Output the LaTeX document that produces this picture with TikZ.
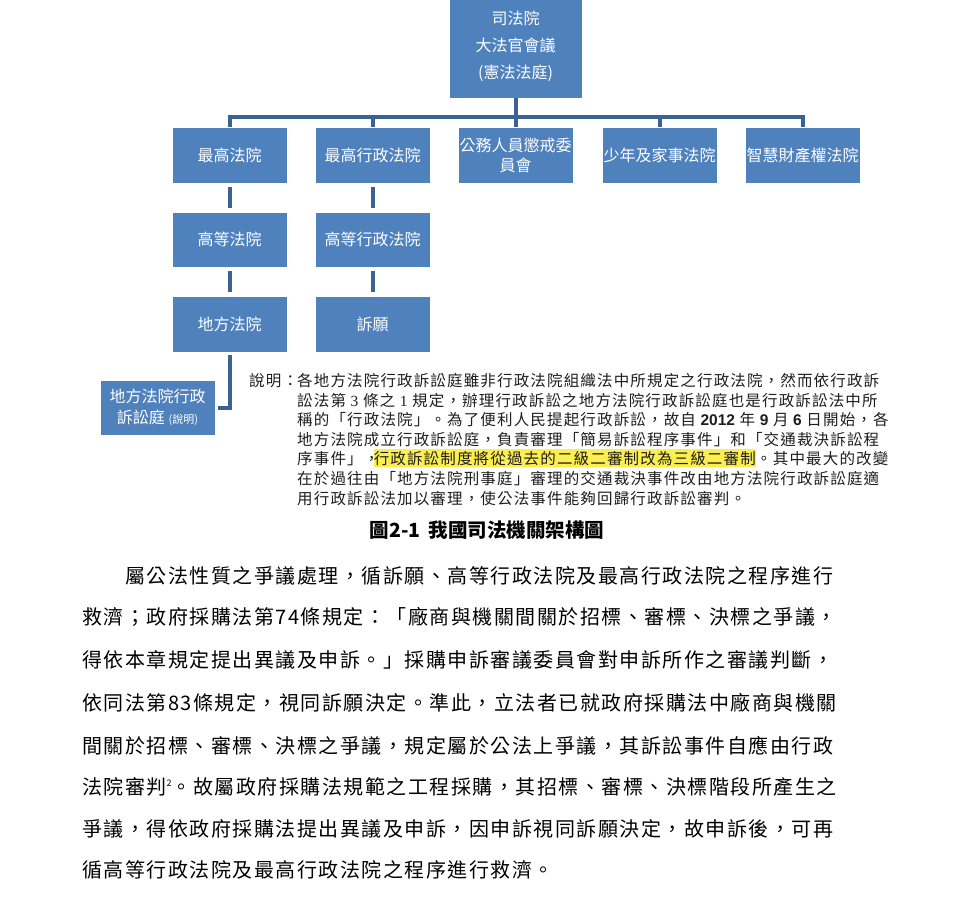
\documentclass[tikz,border=0pt]{standalone}
\usepackage{fontspec}
\setmainfont{Liberation Serif}
\newfontfamily\cjk{Noto Sans CJK TC}
\newfontfamily\notecjk{Noto Sans CJK TC}[LetterSpace=7.5]
\newfontfamily\bodycjk{Noto Sans CJK TC}[LetterSpace=7.5]
\newfontfamily\numsans{Liberation Sans}
\newfontfamily\numserif{Liberation Serif}
\definecolor{boxblue}{RGB}{79,129,189}
\definecolor{linkblue}{RGB}{58,98,148}
\definecolor{hlyellow}{RGB}{250,238,80}
\definecolor{txt}{RGB}{30,30,30}
\tikzset{
  box/.style={draw=white, line width=0.8pt, fill=boxblue, text=white,
    font=\cjk\fontsize{16}{20}\selectfont, align=center, inner sep=0pt,
    minimum width=115pt, minimum height=56pt},
  conn/.style={draw=linkblue, line width=4pt},
  gap/.style={shorten <=4pt, shorten >=4pt},
  note/.style={anchor=base west, inner sep=0pt, text=txt,
    font=\notecjk\fontsize{15.5}{20}\selectfont},
  body/.style={anchor=base west, inner sep=0pt, text=black,
    font=\bodycjk\fontsize{20}{24}\selectfont},
}
\begin{document}
\begin{tikzpicture}[x=1pt,y=-1pt]
\useasboundingbox (0,0) rectangle (969,903);
\fill[white] (0,0) rectangle (969,903);
% boxes
\node[box, minimum width=133pt, minimum height=104pt, font=\cjk\fontsize{16}{27}\selectfont]
  (top) at (515.5,46) {司法院\\大法官會議\\(憲法法庭)};
\node[box] (b1) at (229.5,155) {最高法院};
\node[box] (b2) at (372.5,155) {最高行政法院};
\node[box] (b3) at (515.5,155) {公務人員懲戒委\\員會};
\node[box] (b4) at (659.5,155) {少年及家事法院};
\node[box] (b5) at (802.5,155) {智慧財產權法院};
\node[box, minimum height=55pt] (c1) at (229.5,239.5) {高等法院};
\node[box, minimum height=55pt] (c2) at (372.5,239.5) {高等行政法院};
\node[box] (d1) at (229.5,324) {地方法院};
\node[box] (d2) at (372.5,324) {訴願};
\node[box, minimum height=55pt, font=\cjk\fontsize{16}{21}\selectfont] (adm) at (157.5,407.5)
  {地方法院行政\\訴訟庭 {\fontsize{11}{11}\selectfont (說明)}};
% connectors
\coordinate (bus) at (515.5,117);
\draw[conn] (top.south) -- (bus);
\draw[conn] (b1.north) |- (bus) -| (b5.north);
\draw[conn] (b2.north) -- (b2.north |- bus);
\draw[conn] (b3.north) -- (b3.north |- bus);
\draw[conn] (b4.north) -- (b4.north |- bus);
\draw[conn,gap] (b1) -- (c1);
\draw[conn,gap] (c1) -- (d1);
\draw[conn,gap] (b2) -- (c2);
\draw[conn,gap] (c2) -- (d2);
\draw[conn, shorten <=3pt, shorten >=3pt] (d1.south) |- (adm.east);
% note
\node[note] (nlab) at (249,386) {說明：};
\node[note] (n1) at (297,386) {各地方法院行政訴訟庭雖非行政法院組織法中所規定之行政法院，然而依行政訴};
\node[note] (n2) at (297,406) {訟法第 {\numserif 3} 條之 {\numserif 1} 規定，辦理行政訴訟之地方法院行政訴訟庭也是行政訴訟法中所};
\node[note] (n3) at (297,425) {稱的「行政法院」。為了便利人民提起行政訴訟，故自 {\numsans\bfseries 2012} 年 {\numsans\bfseries 9} 月 {\numsans\bfseries 6} 日開始，各};
\node[note] (n4) at (297,445) {地方法院成立行政訴訟庭，負責審理「簡易訴訟程序事件」和「交通裁決訴訟程};
\node[note] (n5a) at (297,464) {序事件」，\kern-6pt};
\node[note, fill=hlyellow, inner ysep=2pt] (n5b) at (n5a.base east) {行政訴訟制度將從過去的二級二審制改為三級二審制};
\node[note] (n5c) at (n5b.base east) {。其中最大的改變};
\node[note] (n6) at (297,484) {在於過往由「地方法院刑事庭」審理的交通裁決事件改由地方法院行政訴訟庭適};
\node[note] (n7) at (297,504) {用行政訴訟法加以審理，使公法事件能夠回歸行政訴訟審判。};
% caption
\node[anchor=base, inner sep=0pt, font=\cjk\bfseries\fontsize{19.5}{22}\selectfont] (cap) at (487,537) {圖2-1\hspace{8pt}我國司法機關架構圖};
% body
\node[body] (p1) at (125,583) {屬公法性質之爭議處理，循訴願、高等行政法院及最高行政法院之程序進行};
\node[body] (p2) at (82,624) {救濟；政府採購法第74條規定：「廠商與機關間關於招標、審標、決標之爭議，};
\node[body] (p3) at (82,667) {得依本章規定提出異議及申訴。」採購申訴審議委員會對申訴所作之審議判斷，};
\node[body] (p4) at (82,710) {依同法第83條規定，視同訴願決定。準此，立法者已就政府採購法中廠商與機關};
\node[body] (p5) at (82,753) {間關於招標、審標、決標之爭議，規定屬於公法上爭議，其訴訟事件自應由行政};
\node[body] (p6) at (82,794) {法院審判\raisebox{0.7ex}{\fontsize{9}{9}\selectfont 2}。故屬政府採購法規範之工程採購，其招標、審標、決標階段所產生之};
\node[body] (p7) at (82,836) {爭議，得依政府採購法提出異議及申訴，因申訴視同訴願決定，故申訴後，可再};
\node[body] (p8) at (82,877) {循高等行政法院及最高行政法院之程序進行救濟。};
\end{tikzpicture}
\end{document}
